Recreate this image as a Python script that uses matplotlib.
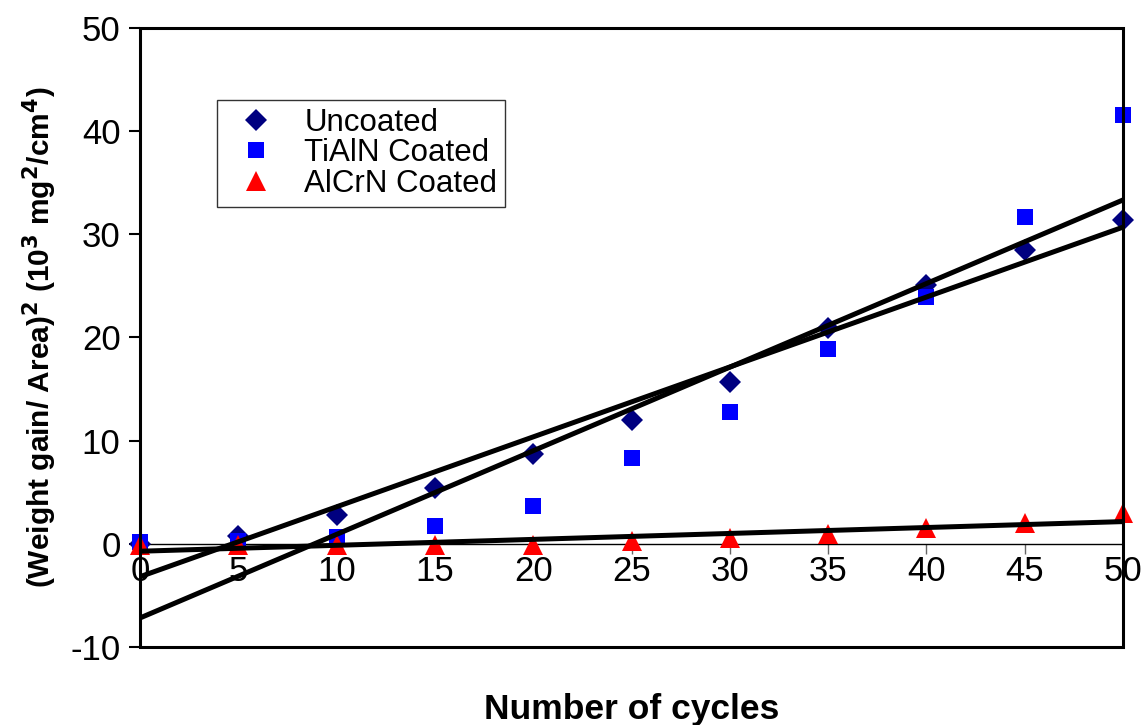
import numpy as np
import matplotlib.pyplot as plt
from matplotlib.patches import Rectangle

plt.rcParams['font.family'] = ['Liberation Sans', 'DejaVu Sans']
plt.rcParams['axes.unicode_minus'] = False

cycles = np.array([0, 5, 10, 15, 20, 25, 30, 35, 40, 45, 50])
uncoated = np.array([0.0, 0.8, 2.8, 5.4, 8.7, 12.0, 15.7, 20.9, 25.1, 28.5, 31.4])
tialn = np.array([0.2, 0.3, 0.7, 1.7, 3.7, 8.3, 12.8, 18.9, 23.9, 31.7, 41.6])
alcrn = np.array([-0.1, -0.1, -0.1, -0.1, -0.1, 0.3, 0.6, 1.0, 1.5, 2.0, 3.0])

fig = plt.figure(figsize=(11.45, 7.25), dpi=100)
ax = fig.add_axes([0.1223, 0.1076, 0.8585, 0.8538])

ax.plot(cycles, uncoated, 'D', color='#000080', ms=11, mew=0, label='Uncoated',
        zorder=3, clip_on=False)
ax.plot(cycles, tialn, 's', color='#0000FF', ms=12, mew=0, label='TiAlN Coated',
        zorder=3, clip_on=False)
ax.plot(cycles, alcrn, '^', color='#FF0000', ms=15, mew=0, label='AlCrN Coated',
        zorder=3, clip_on=False)

# linear trend lines
xs = np.array([0, 50])
for y in (uncoated, tialn, alcrn):
    k, b = np.polyfit(cycles, y, 1)
    ax.plot(xs, k * xs + b, color='black', lw=3.6, zorder=4, solid_capstyle='butt')

ax.set_xlim(0, 50)
ax.set_ylim(-10, 50)
ax.set_xticks(np.arange(0, 51, 5))
ax.set_yticks(np.arange(-10, 51, 10))

ax.spines['bottom'].set_position(('data', 0))
ax.spines['bottom'].set_linewidth(1.0)
for s in ('left', 'right', 'top'):
    ax.spines[s].set_visible(False)
ax.add_patch(Rectangle((0, 0), 1, 1, transform=ax.transAxes, fill=False,
                       lw=2.2, edgecolor='black', zorder=5, clip_on=False))

ax.tick_params(axis='x', direction='out', length=7, width=1, color='#666666',
               labelsize=25, pad=1)
ax.tick_params(axis='y', direction='out', length=8, width=1.5, labelsize=25, pad=6)

ax.set_xlabel('Number of cycles', fontsize=25.5, fontweight='bold', labelpad=76)
ax.set_ylabel(r'(Weight gain/ Area)$^\mathbf{2}$ (10$^\mathbf{3}$ mg$^\mathbf{2}$/cm$^\mathbf{4}$)',
              fontsize=21.5, fontweight='bold', labelpad=8)

leg = ax.legend(loc='upper left', bbox_to_anchor=(0.078, 0.884), fontsize=22.5,
                frameon=True, fancybox=False, borderpad=0.25, handletextpad=0.55,
                labelspacing=0.02, borderaxespad=0, handlelength=2.0)
leg.get_frame().set_edgecolor('black')
leg.get_frame().set_linewidth(1.0)

fig.savefig('out.png', dpi=100)
